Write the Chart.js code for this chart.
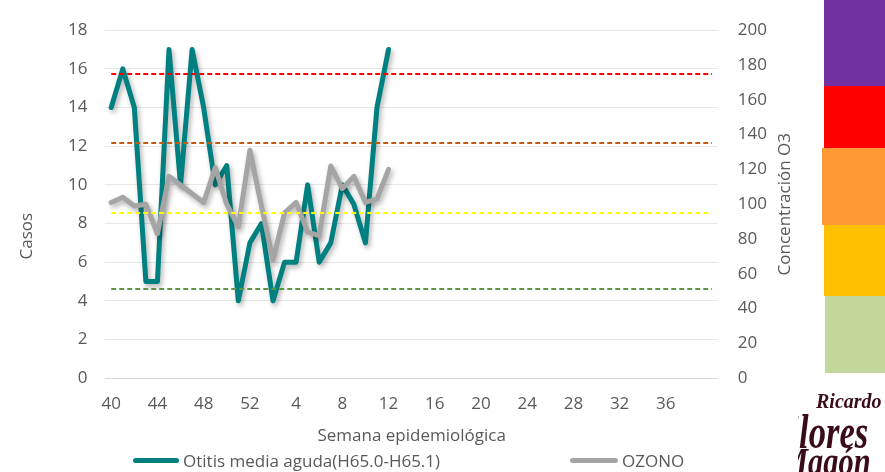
<!DOCTYPE html>
<html lang="es">
<head>
<meta charset="utf-8">
<title>Otitis media aguda y ozono</title>
<script src="https://cdn.jsdelivr.net/npm/chart.js@4.4.1/dist/chart.umd.min.js"></script>
<style>
    html, body { margin: 0; padding: 0; background: #fff; }
    #wrap { position: relative; width: 885px; height: 472px; overflow: hidden; font-family: 'Open Sans', sans-serif; }
    #wrap canvas { position: absolute; left: 0; top: 0; }
    .nivel { position: absolute; }
    .leyenda { position: absolute; top: 448px; height: 24px; display: flex; align-items: center; color: #595959; font-size: 17px; white-space: nowrap; }
    .leyenda .linea { display: inline-block; height: 5px; border-radius: 3px; margin-right: 4px; }
    #logo { position: absolute; left: 798px; top: 384px; width: 87px; height: 88px; overflow: hidden; color: #3a0c18; font-family: 'Liberation Serif', serif; font-weight: bold; }
    #logo div { position: absolute; white-space: nowrap; line-height: 1; }
</style>
</head>
<body>
<div id="wrap">
    <canvas id="otitisChart" width="885" height="472"></canvas>

    <!-- bandas de calidad del aire -->
    <div class="nivel" style="left:824px; top:0; width:61px; height:86px; background:#7030A0;"></div>
    <div class="nivel" style="left:824px; top:86px; width:61px; height:64px; background:#FF0000;"></div>
    <div class="nivel" style="left:822px; top:148px; width:63px; height:77px; background:#FF9933;"></div>
    <div class="nivel" style="left:824px; top:225px; width:61px; height:71px; background:#FFC000;"></div>
    <div class="nivel" style="left:825px; top:296px; width:60px; height:77px; background:#C4D79B;"></div>

    <div class="leyenda" style="left:133px;"><span class="linea" style="width:46px; background:#008080;"></span>Otitis media aguda(H65.0-H65.1)</div>
    <div class="leyenda" style="left:570px;"><span class="linea" style="width:48px; background:#A5A5A5;"></span>OZONO</div>

    <div id="logo">
        <div style="left:18px; top:7px; font-size:20px; font-style:italic;">Ricardo</div>
        <div style="left:-22px; top:24px; font-size:48px; font-style:italic; transform:scaleX(0.72); transform-origin:left top;">Flores</div>
        <div style="left:-17px; top:58px; font-size:40px; font-style:italic; transform:scaleX(0.76); transform-origin:left top;">Magón</div>
    </div>
</div>

<script>
// semanas epidemiológicas (la última categoría no lleva etiqueta)
const semanas = [40, 41, 42, 43, 44, 45, 46, 47, 48, 49, 50, 51, 52,
    1, 2, 3, 4, 5, 6, 7, 8, 9, 10, 11, 12, 13, 14, 15, 16, 17, 18, 19, 20,
    21, 22, 23, 24, 25, 26, 27, 28, 29, 30, 31, 32, 33, 34, 35, 36, 37, 38, 39, ''];

// casos de otitis media aguda
const otitis = [14, 16, 14, 5, 5, 17, 10, 17, 14, 10, 11, 4, 7,
    8, 4, 6, 6, 10, 6, 7, 10, 9, 7, 14, 17];

// concentración de ozono
const ozono = [101, 104, 99, 100, 83, 116, 111, 106, 101, 121, 100, 87, 131,
    99, 68, 95, 101, 84, 82, 122, 109, 116, 101, 103, 120];

// límites del índice de calidad del aire para O3
const umbrales = [51, 95, 135, 175];
const coloresUmbral = ['#5F9440', '#FFFF00', '#C55A11', '#FF0000'];

const textoGris = '#595959';
const fuente = { family: "'Open Sans', sans-serif", size: 17 };

// sombra de las líneas, como en el original
const sombraPlugin = {
    id: 'sombra',
    beforeDatasetDraw(chart) {
        const ctx = chart.ctx;
        ctx.save();
        ctx.shadowColor = 'rgba(0, 0, 0, 0.3)';
        ctx.shadowBlur = 5;
        ctx.shadowOffsetX = 2;
        ctx.shadowOffsetY = 3;
    },
    afterDatasetDraw(chart) {
        chart.ctx.restore();
    }
};

// líneas punteadas de los umbrales y títulos de los ejes verticales
const umbralesPlugin = {
    id: 'umbrales',
    afterDatasetsDraw(chart) {
        const ctx = chart.ctx;
        const x = chart.scales.x;
        const y2 = chart.scales.y2;
        const x0 = x.getPixelForValue(0);
        const x1 = x.getPixelForValue(semanas.length - 1);
        ctx.save();
        ctx.setLineDash([5, 3]);
        ctx.lineWidth = 2;
        umbrales.forEach((valor, i) => {
            const yy = Math.round(y2.getPixelForValue(valor));
            ctx.strokeStyle = coloresUmbral[i];
            ctx.beginPath();
            ctx.moveTo(x0, yy);
            ctx.lineTo(x1, yy);
            ctx.stroke();
        });
        ctx.restore();
    },
    afterDraw(chart) {
        const ctx = chart.ctx;
        const area = chart.chartArea;
        ctx.save();
        ctx.fillStyle = textoGris;
        ctx.font = "17px 'Open Sans', sans-serif";
        ctx.textAlign = 'center';
        ctx.textBaseline = 'middle';

        ctx.save();
        ctx.translate(area.left - 78, area.top + 206);
        ctx.rotate(-Math.PI / 2);
        ctx.fillText('Casos', 0, 0);
        ctx.restore();

        ctx.save();
        ctx.translate(chart.scales.y2.right - 2, (area.top + area.bottom) / 2);
        ctx.rotate(-Math.PI / 2);
        ctx.fillText('Concentración O3', 0, 0);
        ctx.restore();

        ctx.restore();
    }
};

const ctx = document.getElementById('otitisChart').getContext('2d');
const otitisChart = new Chart(ctx, {
    type: 'line',
    data: {
        labels: semanas,
        datasets: [{
            label: 'Otitis media aguda(H65.0-H65.1)',
            data: otitis,
            yAxisID: 'y',
            borderColor: '#008080',
            backgroundColor: '#008080',
            borderWidth: 5,
            borderJoinStyle: 'round',
            borderCapStyle: 'round',
            pointRadius: 0,
            tension: 0,
            order: 1
        }, {
            label: 'OZONO',
            data: ozono,
            yAxisID: 'y2',
            borderColor: '#A5A5A5',
            backgroundColor: '#A5A5A5',
            borderWidth: 5,
            borderJoinStyle: 'round',
            borderCapStyle: 'round',
            pointRadius: 0,
            tension: 0,
            order: 0
        }]
    },
    options: {
        responsive: false,
        animation: false,
        layout: {
            padding: { top: 22, left: 50, right: 98, bottom: 21 }
        },
        plugins: {
            legend: { display: false },
            tooltip: { enabled: false }
        },
        scales: {
            x: {
                offset: true,
                grid: { display: false, drawTicks: false },
                border: { display: true, color: '#D9D9D9', width: 1 },
                ticks: {
                    color: textoGris,
                    font: fuente,
                    padding: 16,
                    autoSkip: false,
                    maxRotation: 0,
                    callback: function (value, index) {
                        return index % 4 === 0 ? this.getLabelForValue(value) : '';
                    }
                },
                title: {
                    display: true,
                    text: 'Semana epidemiológica',
                    color: textoGris,
                    font: fuente,
                    padding: { top: -5, bottom: 5 }
                }
            },
            y: {
                position: 'left',
                min: 0,
                max: 18,
                grid: { color: '#E8E8E8', drawTicks: false },
                border: { display: false },
                ticks: {
                    stepSize: 2,
                    color: textoGris,
                    font: fuente,
                    padding: 18
                }
            },
            y2: {
                position: 'right',
                min: 0,
                max: 200,
                grid: { display: false, drawTicks: false },
                border: { display: false },
                ticks: {
                    stepSize: 20,
                    color: textoGris,
                    font: fuente,
                    padding: 20
                }
            }
        }
    },
    plugins: [sombraPlugin, umbralesPlugin]
});
</script>
</body>
</html>
